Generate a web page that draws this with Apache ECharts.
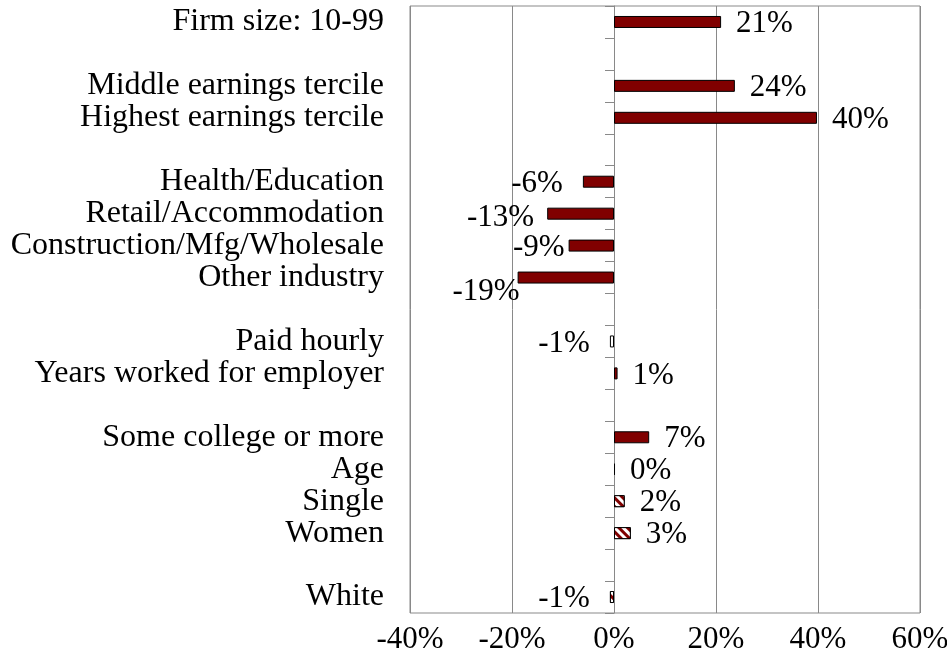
<!DOCTYPE html>
<html>
<head>
<meta charset="utf-8">
<script src="https://cdn.jsdelivr.net/npm/echarts@6/dist/echarts.min.js"></script>
<style>
html, body { margin: 0; padding: 0; background: #fff; }
#chart { width: 947px; height: 666px; }
</style>
</head>
<body>
<div id="chart"></div>
<script>
// rows from top to bottom, '' = empty spacer row
var categories = ['Firm size: 10-99', '', 'Middle earnings tercile', 'Highest earnings tercile', '',
    'Health/Education', 'Retail/Accommodation', 'Construction/Mfg/Wholesale', 'Other industry', '',
    'Paid hourly', 'Years worked for employer', '',
    'Some college or more', 'Age', 'Single', 'Women', '', 'White'];
var values = [21, null, 23.7, 39.8, null,
    -6.1, -13.1, -8.9, -18.9, null,
    -0.8, 0.7, null,
    6.9, 0.2, 2.1, 3.3, null, -0.8];
var valueLabels = ['21%', '', '24%', '40%', '',
    '-6%', '-13%', '-9%', '-19%', '',
    '-1%', '1%', '',
    '7%', '0%', '2%', '3%', '', '-1%'];
var xTicks = [-40, -20, 0, 20, 40, 60];

var FONT = '"Liberation Serif", "Times New Roman", serif';
var hatched = ['Single', 'Women', 'White'];
var hollow = ['Paid hourly'];
// a few labels excel pushed around
var labelNudge = {
    'Retail/Accommodation': [7, 4],
    'Construction/Mfg/Wholesale': [16, 2],
    'Other industry': [22, 14]
};

var barData = values.map(function (v, i) {
    if (v === null) return '-';
    var name = categories[i];
    var item = {
        value: v,
        label: {
            position: v < 0 ? 'left' : 'right',
            distance: v < 0 ? 20 : 15,
            offset: labelNudge[name] || [0, 2]
        }
    };
    if (hatched.indexOf(name) >= 0) {
        item.itemStyle = {
            color: '#ffffff',
            decal: {
                symbol: 'rect',
                symbolSize: 1,
                dashArrayX: [1, 0],
                dashArrayY: [3, 3],
                rotation: Math.PI / 4,
                color: '#800000',
                backgroundColor: '#ffffff'
            }
        };
    } else if (hollow.indexOf(name) >= 0) {
        item.itemStyle = { color: '#ffffff' };
    }
    return item;
});

var chart = echarts.init(document.getElementById('chart'));
chart.setOption({
    animation: false,
    textStyle: { fontFamily: FONT },
    grid: {
        left: 410, right: 27, top: 6, bottom: 53,
        containLabel: false, outerBoundsMode: 'none',
        show: true, borderColor: '#898989', borderWidth: 1
    },
    xAxis: {
        type: 'value',
        min: xTicks[0],
        max: xTicks[xTicks.length - 1],
        interval: 20,
        axisLine: { show: false },
        axisTick: { show: false },
        splitLine: { show: true, lineStyle: { color: '#898989', width: 1 } },
        axisLabel: {
            formatter: '{value}%',
            fontFamily: FONT, fontSize: 31, color: '#000', margin: 11
        }
    },
    yAxis: {
        type: 'category',
        inverse: true,
        data: categories,
        axisLine: { show: true, onZero: true, lineStyle: { color: '#898989', width: 1 } },
        axisTick: { show: true, inside: false, length: 9, lineStyle: { color: '#898989' } },
        splitLine: { show: false },
        axisLabel: {
            fontFamily: FONT, fontSize: 32, color: '#000', margin: 26,
            padding: [4, 0, 0, 0],
            interval: 0
        }
    },
    series: [{
        type: 'bar',
        data: barData,
        barWidth: 12,
        itemStyle: { color: '#800000', borderColor: '#000', borderWidth: 1 },
        label: {
            show: true,
            fontFamily: FONT, fontSize: 31, color: '#000',
            formatter: function (p) { return valueLabels[p.dataIndex]; }
        }
    }]
});
</script>
</body>
</html>
